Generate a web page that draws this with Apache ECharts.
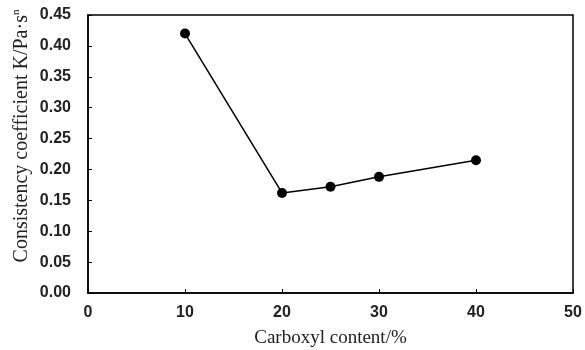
<!DOCTYPE html>
<html>
<head>
<meta charset="utf-8">
<script src="https://cdn.jsdelivr.net/npm/echarts@6/dist/echarts.min.js"></script>
<style>
html,body{margin:0;padding:0;background:#fff;}
#main{width:585px;height:350px;}
</style>
</head>
<body>
<div id="main"></div>
<script>
// carboxyl content (%) and consistency coefficient K
var carboxyl = [10, 20, 25, 30, 40];
var consistency = [0.420, 0.162, 0.172, 0.188, 0.215];

var chart = echarts.init(document.getElementById('main'));

var points = [];
for (var i = 0; i < carboxyl.length; i++) {
	points.push([carboxyl[i], consistency[i]]);
}

var option = {
	backgroundColor: '#fff',
	animation: false,
	grid: {
		left: 88,
		right: 12,
		top: 15,
		bottom: 57,
		outerBoundsMode: 'none',
		show: true,
		borderColor: '#000',
		borderWidth: 1.5
	},
	xAxis: {
		type: 'value',
		min: 0,
		max: 50,
		interval: 10,
		name: 'Carboxyl content/%',
		nameLocation: 'middle',
		nameGap: 36,
		nameMoveOverlap: false,
		nameTextStyle: {
			fontFamily: 'Liberation Serif',
			fontSize: 19,
			color: '#222'
		},
		axisLine: { show: true, lineStyle: { color: '#000', width: 1.5 } },
		axisTick: { show: true, inside: true, length: 4, lineStyle: { color: '#000' } },
		axisLabel: {
			fontFamily: 'Liberation Sans',
			fontSize: 16,
			fontWeight: 'bold',
			color: '#222',
			margin: 12
		},
		splitLine: { show: false }
	},
	yAxis: {
		type: 'value',
		min: 0,
		max: 0.45,
		interval: 0.05,
		name: '{n|Consistency coefficient K/Pa·s}{s|n}',
		nameLocation: 'middle',
		nameGap: 56,
		nameMoveOverlap: false,
		nameTextStyle: {
			padding: [0, 0, 0, 36],
			rich: {
				n: { fontFamily: 'Liberation Serif', fontSize: 20, color: '#222' },
				s: { fontFamily: 'Liberation Serif', fontSize: 11, color: '#222', verticalAlign: 'top', padding: [0, 0, 10, 0] }
			}
		},
		axisLine: { show: true, lineStyle: { color: '#000', width: 1.5 } },
		axisTick: { show: true, inside: true, length: 4, lineStyle: { color: '#000' } },
		axisLabel: {
			fontFamily: 'Liberation Sans',
			fontSize: 16,
			fontWeight: 'bold',
			color: '#222',
			margin: 17,
			formatter: function (v) { return v.toFixed(2); }
		},
		splitLine: { show: false }
	},
	series: [{
		type: 'line',
		data: points,
		symbol: 'circle',
		symbolSize: 10,
		itemStyle: { color: '#000' },
		lineStyle: { color: '#000', width: 1.5 }
	}]
};

chart.setOption(option);
</script>
</body>
</html>
